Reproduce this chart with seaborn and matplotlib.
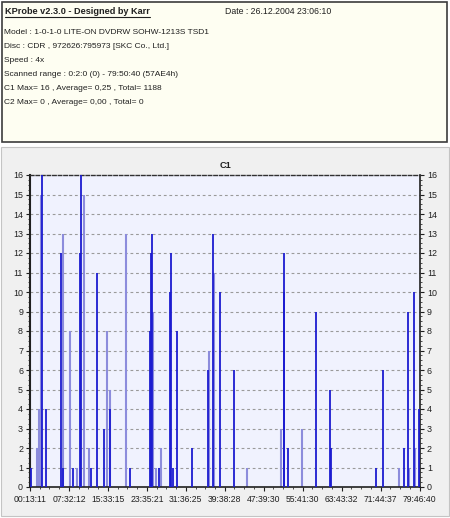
import numpy as np
import matplotlib
matplotlib.use("Agg")
import matplotlib.pyplot as plt
import seaborn as sns
from matplotlib.patches import Rectangle
from matplotlib.lines import Line2D
from matplotlib.ticker import MultipleLocator, FixedLocator

# C1 error readings: scan position (minutes) and error count
dark_pos = [0.42, 2.67, 3.49, 6.55, 6.96, 9.00, 10.43, 10.64, 12.78, 13.90,
            15.33, 16.56, 20.65, 24.83, 24.93, 25.14, 26.57, 28.82, 29.02, 29.33,
            30.24, 33.31, 36.58, 37.60, 39.03, 41.89, 52.10, 52.20, 53.02, 58.64,
            61.50, 61.70, 70.89, 72.32, 76.61, 77.42, 78.65, 79.77]
dark_val = [1, 16, 4, 12, 1, 1, 12, 16, 1, 11,
            3, 4, 1, 8, 12, 13, 1, 10, 12, 1,
            8, 2, 6, 13, 10, 6, 10, 12, 2, 9,
            5, 2, 1, 6, 2, 9, 10, 4]
light_pos = [1.55, 2.16, 2.47, 6.86, 8.29, 9.72, 11.25, 12.17, 15.95, 16.66,
             19.73, 25.44, 25.96, 26.98, 36.88, 37.80, 44.64, 51.59, 55.78, 75.59,
             77.63, 78.86]
light_val = [2, 4, 15, 13, 8, 1, 15, 2, 8, 5,
             13, 9, 1, 2, 7, 11, 1, 3, 3, 1,
             1, 2]
tick_labels = ["00:13:11", "07:32:12", "15:33:15", "23:35:21", "31:36:25", "39:38:28",
               "47:39:30", "55:41:30", "63:43:32", "71:44:37", "79:46:40"]
y_ticks = list(range(0, 17))

header_lines = [
    "Model : 1-0-1-0 LITE-ON DVDRW SOHW-1213S TSD1",
    "Disc : CDR , 972626:795973 [SKC Co., Ltd.]",
    "Speed : 4x",
    "Scanned range : 0:2:0 (0) - 79:50:40 (57AE4h)",
    "C1 Max= 16 , Average= 0,25 , Total= 1188",
    "C2 Max= 0 , Average= 0,00 , Total= 0",
]

sns.set_style("ticks")
plt.rcParams['font.family'] = ['Liberation Sans', 'DejaVu Sans']

W, H = 450, 518
fig = plt.figure(figsize=(W / 100, H / 100), dpi=100)
fig.patch.set_facecolor("white")

def px(x, y):
    return x / W, 1 - y / H

# header panel
fig.add_artist(Rectangle(px(2, 142), 445 / W, 140 / H, transform=fig.transFigure,
                         facecolor="#FEFEF2", edgecolor="#3C3C3C", linewidth=1.2, zorder=-2))
# chart panel
fig.add_artist(Rectangle(px(1, 516), 448 / W, 369 / H, transform=fig.transFigure,
                         facecolor="#F0F0F0", edgecolor="#C4C4C4", linewidth=0.8, zorder=-2))

fs = 6.0
title = fig.text(*px(5, 11), "KProbe v2.3.0 - Designed by Karr", fontsize=6.6,
                 fontweight="bold", va="center", ha="left", color="#202020")
fig.text(*px(225, 11), "Date : 26.12.2004 23:06:10", fontsize=fs + 0.3, va="center",
         ha="left", color="#202020")
for i, line in enumerate(header_lines):
    fig.text(*px(4, 33 + i * 14), line, fontsize=fs, va="center", ha="left", color="#202020")

fig.text(*px(225, 166), "C1", fontsize=6.6, fontweight="bold", va="center", ha="center",
         color="#202020")

ax = fig.add_axes([30 / W, 1 - 487 / H, 390 / W, 312 / H])
ax.set_facecolor("#F0F2FE")
ax.set_xlim(0.22, 79.88)
ax.set_ylim(0, 16)

for y in y_ticks[1:-1]:
    ax.axhline(y, color="#9A9A9A", linewidth=0.8, linestyle=(0, (2.5, 2.5)), zorder=1)

ax.vlines(light_pos, 0, light_val, colors="#8C8CDC", linewidth=1.5, zorder=2)
ax.vlines(dark_pos, 0, dark_val, colors="#1C1CD0", linewidth=1.3, zorder=3)

ax.set_yticks(y_ticks)
ax.yaxis.set_minor_locator(MultipleLocator(0.25))
ax.set_xticks(np.linspace(0.22, 79.78, 11))
ax.set_xticklabels(tick_labels)
ax.xaxis.set_minor_locator(FixedLocator(np.linspace(0.22, 79.78, 41)))
ax.tick_params(axis="both", which="major", labelsize=6.4, colors="#202020", length=3,
               width=0.8, pad=2)
ax.tick_params(axis="x", which="major", labelsize=6.2, pad=3)
ax.tick_params(axis="both", which="minor", length=1.5, width=0.6, colors="#303030")
ax.tick_params(axis="y", which="both", left=True, right=True, labelleft=True, labelright=True)

for s in ["left", "bottom", "right"]:
    ax.spines[s].set_visible(True)
    ax.spines[s].set_color("#202020")
ax.spines["left"].set_linewidth(1.5)
ax.spines["bottom"].set_linewidth(1.2)
ax.spines["right"].set_linewidth(1.2)
ax.spines["top"].set_visible(True)
ax.spines["top"].set_color("#303030")
ax.spines["top"].set_linewidth(1.0)
ax.spines["top"].set_linestyle((0, (2.5, 1.5)))

# underline the header title
fig.canvas.draw()
bb = title.get_window_extent()
fig.add_artist(Line2D([bb.x0 / W, bb.x1 / W], [(bb.y0 - 1) / H, (bb.y0 - 1) / H],
                      transform=fig.transFigure, color="#202020", linewidth=0.8))

fig.savefig("out.png", dpi=100)
